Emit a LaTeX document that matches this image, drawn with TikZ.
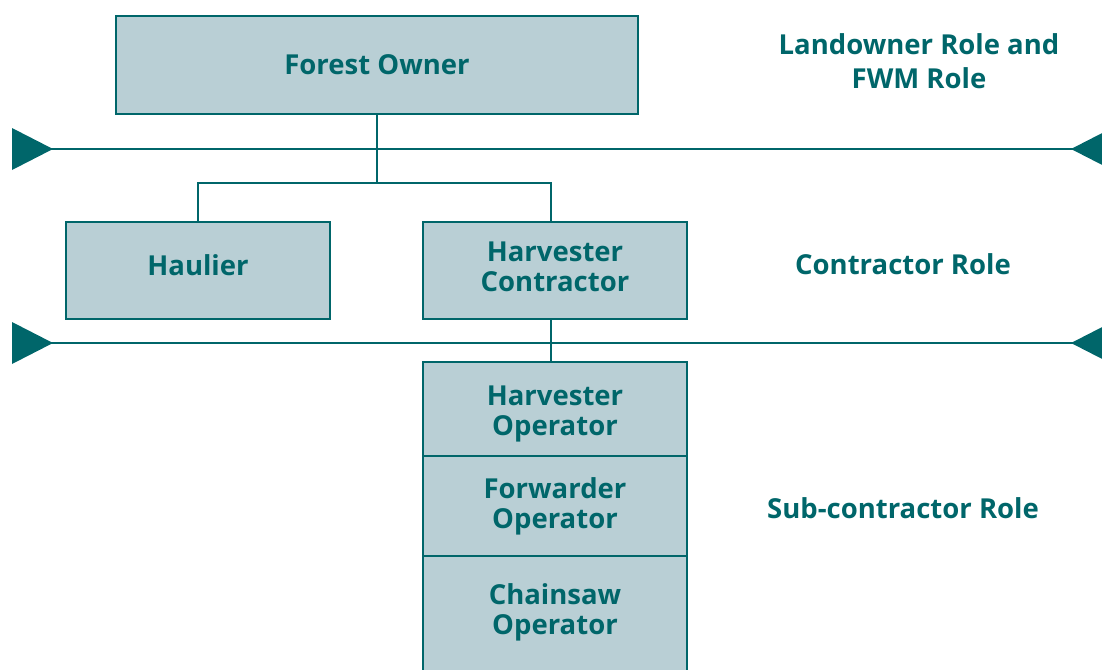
\documentclass[tikz,border=0pt]{standalone}
\usepackage{fontspec}
\setmainfont{Open Sans}
\definecolor{fteal}{HTML}{00666A}
\definecolor{fboxfill}{HTML}{B9CFD5}
\begin{document}
\begin{tikzpicture}[x=1pt,y=-1pt,
  lbl/.style={font=\bfseries\fontsize{27.5}{30}\selectfont, text=fteal, align=center, inner sep=0pt},
  box/.style={draw=fteal, fill=fboxfill, line width=2.6pt, lbl},
  conn/.style={draw=fteal, line width=2.6pt},
  tri/.style={fill=fteal}]
\useasboundingbox (0,0) rectangle (1102,669);
\clip (0,0) rectangle (1102,669);
% boxes
\node[box, minimum width=522pt, minimum height=98pt] (fo) at (377,65) {Forest Owner};
\node[box, minimum width=264pt, minimum height=97pt, text depth=11pt] (hl) at (198,270.5) {Haulier};
\node[box, minimum width=264pt, minimum height=97pt, text depth=8pt] (hc) at (555,270.5) {Harvester\\Contractor};
\node[box, minimum width=264pt, minimum height=94pt] (ho) at (555,409) {\rule{0pt}{30pt}Harvester\\Operator};
\node[box, minimum width=264pt, minimum height=100pt] (fw) at (555,506) {Forwarder\\Operator};
\node[box, minimum width=264pt, minimum height=130pt] (cs) at (555,621) {};
\node[lbl] (cst) at (555,612) {Chainsaw\\Operator};
% role labels
\node[lbl] (r1) at (919,61) {Landowner Role and\\[4pt]FWM Role};
\node[lbl] (r2) at (903,264) {Contractor Role};
\node[lbl] (r3) at (903,508) {Sub-contractor Role};
% horizontal role lines
\coordinate (l1a) at (30,149); \coordinate (l1b) at (1090,149);
\coordinate (l2a) at (30,343); \coordinate (l2b) at (1090,343);
\draw[conn] (l1a) -- (l1b);
\draw[conn] (l2a) -- (l2b);
\foreach \yy in {149,343}{
  \fill[tri] (12,\yy-21) -- (53,\yy) -- (12,\yy+21) -- cycle;
  \fill[tri] (1112,\yy-21) -- (1071,\yy) -- (1112,\yy+21) -- cycle;
}
% connectors
\coordinate (j) at (377,183);
\draw[conn] (fo.south) -- (j);
\draw[conn] (hl.north) |- (j) -| ([xshift=-4pt]hc.north);
\draw[conn] ([xshift=-4pt]hc.south) -- ([xshift=-4pt]ho.north);
\end{tikzpicture}
\end{document}
